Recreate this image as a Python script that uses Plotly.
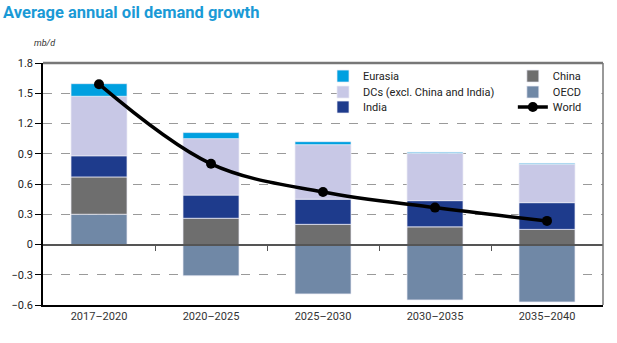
import plotly.graph_objects as go

categories = ["2017–2020", "2020–2025", "2025–2030", "2030–2035", "2035–2040"]
oecd = [0.30, -0.31, -0.49, -0.55, -0.57]
china = [0.37, 0.26, 0.20, 0.175, 0.15]
india = [0.21, 0.23, 0.25, 0.26, 0.265]
dcs = [0.59, 0.56, 0.54, 0.47, 0.38]
eurasia = [0.125, 0.06, 0.03, 0.01, 0.01]
world = [1.59, 0.80, 0.52, 0.366, 0.234]

y_ticks = [-0.6, -0.3, 0, 0.3, 0.6, 0.9, 1.2, 1.5, 1.8]
y_ticktext = ["−0.6", "−0.3", "0", "0.3", "0.6", "0.9", "1.2", "1.5", "1.8"]

FONT = "Liberation Sans Narrow, Roboto, Arial, sans-serif"
edge = dict(color="rgba(235,235,245,0.9)", width=0.8)

fig = go.Figure()
fig.add_bar(x=categories, y=oecd, name="OECD", marker=dict(color="#7088a6", line=edge),
            width=0.5, legend="legend5")
fig.add_bar(x=categories, y=china, name="China", marker=dict(color="#6e6e6e", line=edge),
            width=0.5, legend="legend4")
fig.add_bar(x=categories, y=india, name="India", marker=dict(color="#1e3b8c", line=edge),
            width=0.5, legend="legend3")
fig.add_bar(x=categories, y=dcs, name="DCs (excl. China and India)", marker=dict(color="#c8c8e6", line=edge),
            width=0.5, legend="legend2")
fig.add_bar(x=categories, y=eurasia, name="Eurasia", marker=dict(color="#00a0e0", line=edge),
            width=0.5, legend="legend")
fig.add_scatter(x=categories, y=world, name="World", mode="lines+markers",
                line=dict(color="black", width=3.5, shape="spline", smoothing=1.0),
                marker=dict(color="black", size=10), legend="legend6")

base = dict(xanchor="left", yanchor="middle", bgcolor="rgba(0,0,0,0)",
            font=dict(size=11, color="#222"), itemwidth=30)
col1, col2 = 0.50, 0.839
rows = [0.946, 0.880, 0.818]

fig.update_layout(
    width=617, height=343,
    margin=dict(l=43, r=14, t=63, b=38),
    barmode="relative",
    plot_bgcolor="white", paper_bgcolor="white",
    font=dict(family=FONT, size=11, color="#222"),
    title=dict(text="<b>Average annual oil demand growth</b>", x=0.005, xanchor="left",
               y=0.982, yanchor="top", font=dict(family="Roboto, Arial, sans-serif", size=16.5, color="#1a9ad6")),
    xaxis=dict(showline=True, linecolor="black", linewidth=1.5, ticks="", showgrid=False,
               tickfont=dict(size=11, color="#333"), range=[-0.5, 4.5]),
    xaxis2=dict(overlaying="x", anchor="free", position=0.25, range=[-0.5, 4.5],
                showline=True, linecolor="#555", linewidth=1.5, ticks="outside", ticklen=6,
                tickcolor="#555", tickwidth=1.2,
                tickvals=[0.5, 1.5, 2.5, 3.5], showticklabels=False, showgrid=False, zeroline=False),
    yaxis=dict(range=[-0.6, 1.8], tickvals=y_ticks, ticktext=y_ticktext,
               showline=True, linecolor="black", linewidth=1.5,
               ticks="outside", ticklen=6, tickcolor="black",
               showgrid=True, gridcolor="#9a9a9a", griddash="dash", gridwidth=1,
               zeroline=False, tickfont=dict(size=11, color="#222")),
    legend=dict(base, x=col1, y=rows[0]),
    legend2=dict(base, x=col1, y=rows[1]),
    legend3=dict(base, x=col1, y=rows[2]),
    legend4=dict(base, x=col2, y=rows[0]),
    legend5=dict(base, x=col2, y=rows[1]),
    legend6=dict(base, x=col2, y=rows[2]),
    shapes=[
        dict(type="rect", xref="paper", yref="paper", x0=0.527, x1=0.997, y0=0.80, y1=0.99,
             fillcolor="white", line=dict(width=0), layer="above"),
        dict(type="line", xref="paper", yref="paper", x0=0, x1=1, y0=1, y1=1,
             line=dict(color="#777", width=2.5)),
        dict(type="line", xref="paper", yref="paper", x0=1, x1=1, y0=0, y1=1,
             line=dict(color="#777", width=1.5)),
    ],
    annotations=[
        dict(text="<i>mb/d</i>", xref="paper", yref="paper", x=-0.02, y=1.055,
             xanchor="left", yanchor="bottom", showarrow=False, font=dict(size=9, color="#333")),
    ],
)
# invisible trace so the zero-line axis renders
fig.add_scatter(x=categories, y=[None]*5, xaxis="x2", showlegend=False, hoverinfo="skip")

fig.write_html("out.html")
